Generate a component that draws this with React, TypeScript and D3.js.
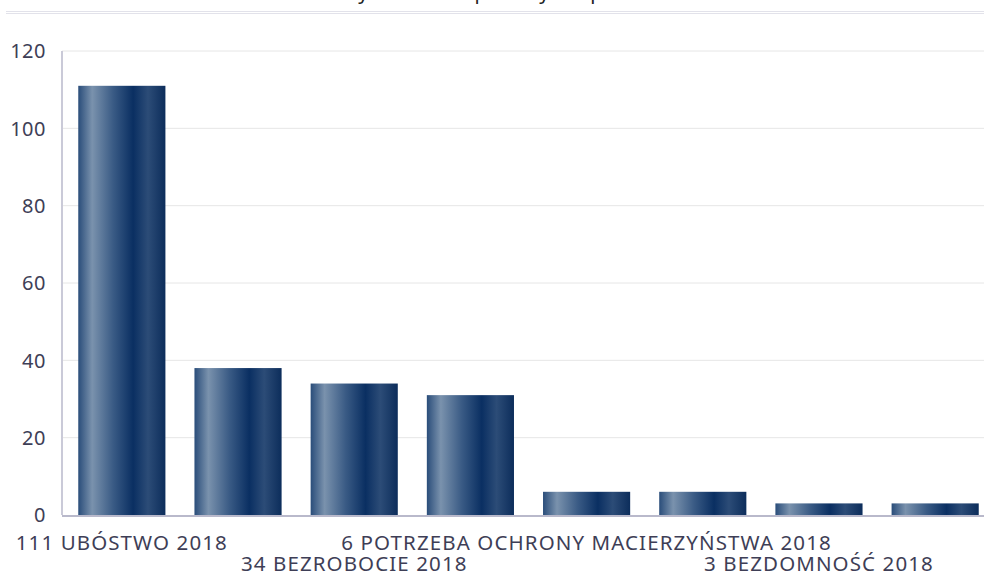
import * as d3 from 'd3'

const categories = [
  '111 UBÓSTWO 2018',
  '38 DŁUGOTRWAŁA LUB CIĘŻKA CHOROBA 2018',
  '34 BEZROBOCIE 2018',
  '31 NIEPEŁNOSPRAWNOŚĆ 2018',
  '6 POTRZEBA OCHRONY MACIERZYŃSTWA 2018',
  '6 ALKOHOLIZM 2018',
  '3 BEZDOMNOŚĆ 2018',
  '3 PRZEMOC W RODZINIE 2018',
]
const values = [111, 38, 34, 31, 6, 6, 3, 3]
const yTicks = [0, 20, 40, 60, 80, 100, 120]
const title = 'Powody udzielenia pomocy i wsparcia'

const W = 984
const H = 575
const margin = { top: 51, right: -11, bottom: 60, left: 62 }
const textColor = '#3e3e56'
const font = '"Noto Sans", "Open Sans", sans-serif'

const App = () => {
  const x = d3
    .scaleBand<string>()
    .domain(categories)
    .range([margin.left, W - margin.right])
    .paddingInner(0.25)
    .paddingOuter(0.14)
  const y = d3.scaleLinear().domain([0, 120]).range([H - margin.bottom, margin.top])

  return (
    <svg width={W} height={H} style={{ position: 'absolute', left: 0, top: 0, fontFamily: font }}>
      <defs>
        <linearGradient id="barGrad" x1="0" x2="1" y1="0" y2="0">
          <stop offset="0" stopColor="#2a4d7a" />
          <stop offset="0.16" stopColor="#7a92ad" />
          <stop offset="0.4" stopColor="#3a5b85" />
          <stop offset="0.63" stopColor="#0a2f62" />
          <stop offset="0.8" stopColor="#2c4c77" />
          <stop offset="1" stopColor="#0c2d5b" />
        </linearGradient>
      </defs>

      {/* title sits above the top edge, only its descenders show */}
      <text x={471} y={-1} textAnchor="middle" fontSize={20} fill="#222">{title}</text>
      <line x1={6} x2={W} y1={11.5} y2={11.5} stroke="#e2e2ea" />
      <line x1={6} x2={W} y1={13.5} y2={13.5} stroke="#e2e2ea" />

      {yTicks.map(t => (
        <g key={t}>
          {t > 0 && (
            <line x1={margin.left} x2={W} y1={y(t)} y2={y(t)} stroke="#e6e6e6" strokeWidth={1} />
          )}
          <text x={46} y={y(t)} dy="0.36em" textAnchor="end" fontSize={20} letterSpacing={0.5} fill={textColor}>{t}</text>
        </g>
      ))}

      <line x1={margin.left} x2={margin.left} y1={margin.top} y2={y(0)} stroke="#cacad8" strokeWidth={2} />

      {categories.map((c, i) => (
        <rect
          key={c}
          x={x(c)}
          y={y(values[i])}
          width={x.bandwidth()}
          height={y(0) - y(values[i])}
          fill="url(#barGrad)"
        />
      ))}

      <line x1={margin.left} x2={W} y1={y(0) + 1} y2={y(0) + 1} stroke="#b9b9cb" strokeWidth={2} />

      {categories.map((c, i) =>
        i % 2 === 0 ? (
          <text
            key={c}
            x={(x(c) as number) + x.bandwidth() / 2}
            y={i % 4 === 0 ? 550 : 571}
            textAnchor="middle"
            fontSize={20.5}
            letterSpacing={1.1}
            fill={textColor}
          >
            {c}
          </text>
        ) : null
      )}
    </svg>
  )
}

export default App
